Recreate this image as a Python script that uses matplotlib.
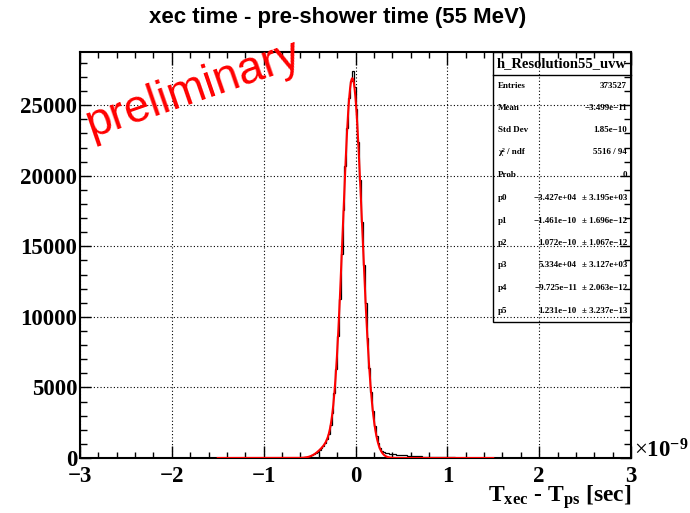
import matplotlib
matplotlib.use("Agg")
import matplotlib.pyplot as plt
import numpy as np
from matplotlib.patches import Rectangle
from matplotlib.ticker import MultipleLocator

plt.rcParams['font.family'] = 'Liberation Serif'
plt.rcParams['mathtext.fontset'] = 'custom'
plt.rcParams['mathtext.rm'] = 'Liberation Serif'
plt.rcParams['mathtext.bf'] = 'Liberation Serif:bold'
plt.rcParams['mathtext.it'] = 'Liberation Serif:italic'

# histogram: 300 bins of 0.02 ns between -3 and 3 ns, counts
n_bins = 300
x_lo, x_hi = -3.0, 3.0
first_bin = 100   # bin whose lower edge is -1.00 ns
counts = [4, 4, 5, 5, 6, 6, 7, 8, 8, 9,
          10, 11, 12, 13, 14, 16, 18, 20, 22, 25,
          28, 34, 44, 62, 92, 135, 190, 265, 355, 460,
          580, 705, 860, 1050, 1320, 1700, 2340, 3220, 4580, 6300,
          8650, 11300, 14450, 17550, 20700, 23350, 25500, 26700, 27450, 26300,
          24700, 22400, 19700, 16750, 13700, 10950, 8500, 6350, 4650, 3300,
          2300, 1560, 1060, 720, 520, 420, 370, 335, 310, 290,
          272, 256, 242, 228, 215, 203, 192, 181, 171, 161,
          152, 143, 135, 127, 120, 113, 106, 100, 94, 88,
          83, 78, 73, 69, 65, 61, 57, 54, 50, 47,
          44, 41, 39, 36, 34, 32, 30, 28, 26, 24,
          23, 21, 20, 18, 17, 16, 15, 14, 13, 12]

# fit parameters from the stats box (seconds)
p = [-3.427e+04, -1.461e-10, 1.072e-10, 5.334e+04, -9.725e-11, 1.231e-10]
fit_lo, fit_hi = -1.5, 1.5   # ns

stats_rows = [("Entries", "373527", ""),
              ("Mean", "\u22123.499e\u221211", ""),
              ("Std Dev", "1.85e\u221210", ""),
              ("\u03c7\u00b2 / ndf", "5516 / 94", ""),
              ("Prob", "0", ""),
              ("p0", "\u22123.427e+04", "\u00b1 3.195e+03"),
              ("p1", "\u22121.461e\u221210", "\u00b1 1.696e\u221212"),
              ("p2", "1.072e\u221210", "\u00b1 1.067e\u221212"),
              ("p3", "5.334e+04", "\u00b1 3.127e+03"),
              ("p4", "\u22129.725e\u221211", "\u00b1 2.063e\u221212"),
              ("p5", "1.231e\u221210", "\u00b1 3.237e\u221213")]

W, H = 690, 513
fig = plt.figure(figsize=(6.9, 5.13), dpi=100)
ax = fig.add_axes([80 / W, 1 - 458 / H, (631 - 80) / W, (458 - 52) / H])

edges = np.linspace(x_lo, x_hi, n_bins + 1)
h = np.zeros(n_bins)
h[first_bin:first_bin + len(counts)] = counts
ax.stairs(h, edges, color='black', linewidth=0.9, zorder=3)


def fit_func(t):
    return (p[0] * np.exp(-0.5 * ((t - p[1]) / p[2]) ** 2)
            + p[3] * np.exp(-0.5 * ((t - p[4]) / p[5]) ** 2))


xf = np.linspace(fit_lo, fit_hi, 1000)
ax.plot(xf, fit_func(xf * 1e-9), color='red', linewidth=1.5, zorder=4)

ax.set_xlim(x_lo, x_hi)
ax.set_ylim(0, 28770)
ax.xaxis.set_major_locator(MultipleLocator(1))
ax.xaxis.set_minor_locator(MultipleLocator(0.2))
ax.yaxis.set_major_locator(MultipleLocator(5000))
ax.yaxis.set_minor_locator(MultipleLocator(1000))
ax.tick_params(which='both', direction='in', top=True, right=True, width=1.0)
ax.tick_params(axis='x', which='major', length=9, pad=6)
ax.tick_params(axis='x', which='minor', length=4.5)
ax.tick_params(axis='y', which='major', length=8, pad=2)
ax.tick_params(axis='y', which='minor', length=5)
for lab in ax.get_xticklabels() + ax.get_yticklabels():
    lab.set_fontsize(16.5)
    lab.set_fontweight('bold')
for s in ax.spines.values():
    s.set_linewidth(1.5)
ax.grid(True, which='major', color='black', linestyle=(0, (1, 2)), linewidth=0.8)
ax.set_axisbelow(True)

# stats box
bx0, bx1, by0, by1 = 493, 631, 52, 322
fig.patches.append(Rectangle((bx0 / W, 1 - by1 / H), (bx1 - bx0) / W, (by1 - by0) / H,
                             transform=fig.transFigure, fill=False,
                             edgecolor='black', linewidth=1.0, zorder=10))
fig.lines.append(plt.Line2D([bx0 / W, bx1 / W], [1 - 75 / H, 1 - 75 / H],
                            transform=fig.transFigure, color='black', linewidth=1.0))
fig.text((bx0 + bx1) / 2 / W, 1 - 63.5 / H, "h_Resolution55_uvw", ha='center', va='center',
         fontsize=10.5, fontweight='bold')
row_y = [86, 108, 130, 152, 175, 198, 221, 243, 265, 288, 311]
for (name, val, err), yy in zip(stats_rows, row_y):
    fig.text(498 / W, 1 - yy / H, name, ha='left', va='center', fontsize=6.5, fontweight='bold')
    if err:
        fig.text(577 / W, 1 - yy / H, val, ha='right', va='center', fontsize=6.5, fontweight='bold')
        fig.text(627 / W, 1 - yy / H, err, ha='right', va='center', fontsize=6.5, fontweight='bold')
    else:
        fig.text(627 / W, 1 - yy / H, val, ha='right', va='center', fontsize=6.5, fontweight='bold')

# labels and title
fig.text(631 / W, 1 - 497 / H, r'$\mathbf{T_{xec}}$ - $\mathbf{T_{ps}}$ [sec]', ha='right',
         va='center', fontsize=17, fontweight='bold')
fig.text(634 / W, 1 - 451 / H, r'$\times\mathbf{10^{-9}}$', ha='left', va='center', fontsize=16.5)
fig.text(338 / W, 1 - 17 / H, "xec time - pre-shower time (55 MeV)", ha='center', va='center',
         fontsize=16, fontweight='bold', family='Liberation Sans')
fig.text(193 / W, 1 - 90 / H, "preliminary", ha='center', va='center', rotation=19,
         fontsize=33, color='red', family='Liberation Sans', rotation_mode='anchor')

fig.savefig("out.png", dpi=100)
